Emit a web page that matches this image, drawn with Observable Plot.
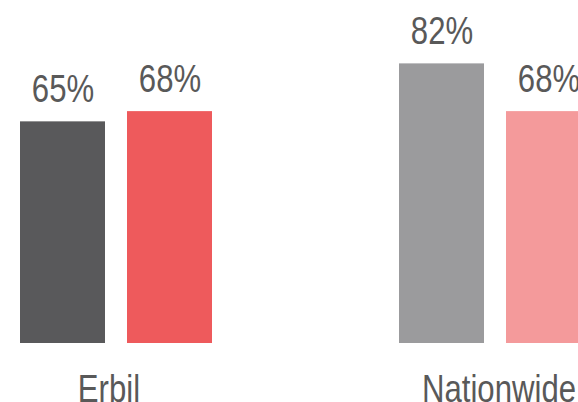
<!DOCTYPE html>
<html>
<head>
<meta charset="utf-8">
<script src="https://cdn.jsdelivr.net/npm/d3@7"></script>
<script src="https://cdn.jsdelivr.net/npm/@observablehq/plot@0.6"></script>
<style>
  html, body { margin: 0; padding: 0; background: #fff; overflow: hidden; }
  #chart svg { display: block; }
</style>
</head>
<body>
<div id="chart"></div>
<script>
// ---- data ----
const categories = ["Erbil", "Nationwide"];
const seriesNames = ["Series 1", "Series 2"];
const erbilValues = [65, 68];
const nationwideValues = [82, 68];
const barColors = ["#59595b", "#ee5a5c", "#9b9b9d", "#f49a9b"];

const valuesByCategory = [erbilValues, nationwideValues];
const rows = [];
categories.forEach((c, i) => {
  seriesNames.forEach((s, j) => {
    rows.push({category: c, series: s, key: c + "|" + s, value: valuesByCategory[i][j]});
  });
});

const font = "'Liberation Sans Narrow', 'Arial Narrow', 'Liberation Sans', Arial, sans-serif";
const textColor = "#595959";
const fs = 38;

const chart = Plot.plot({
  width: 578,
  height: 402,
  marginLeft: 19,
  marginRight: -15,
  marginTop: 2,
  marginBottom: 59,
  style: {fontFamily: font, background: "#fff"},
  fx: {domain: categories, paddingInner: 0.48947, paddingOuter: 0, axis: null, label: null},
  x: {domain: seriesNames, paddingInner: 0.2037, paddingOuter: 0, axis: null},
  y: {domain: [0, 100], axis: null},
  color: {domain: rows.map(d => d.key), range: barColors},
  marks: [
    Plot.barY(rows, {fx: "category", x: "series", y: "value", fill: "key"}),
    Plot.text(rows, {
      fx: "category", x: "series", y: "value",
      text: d => d.value + "%",
      lineAnchor: "bottom", dy: -20,
      fontSize: fs, fill: textColor, fontFamily: font
    }),
    Plot.text([categories[0]], {
      fx: d => d, frameAnchor: "bottom", lineAnchor: "bottom", dy: 58, dx: -8,
      fontSize: fs, fill: textColor, fontFamily: font
    }),
    Plot.text([categories[1]], {
      fx: d => d, frameAnchor: "bottom", lineAnchor: "bottom", dy: 58, dx: 3,
      fontSize: fs, fill: textColor, fontFamily: font
    })
  ]
});
// emulate a narrow face: condense each text horizontally about its anchor
chart.querySelectorAll("text").forEach(t => {
  const tr = t.getAttribute("transform") || "";
  t.setAttribute("transform", (tr + " scale(0.82,1)").trim());
});
document.getElementById("chart").appendChild(chart);
</script>
</body>
</html>
